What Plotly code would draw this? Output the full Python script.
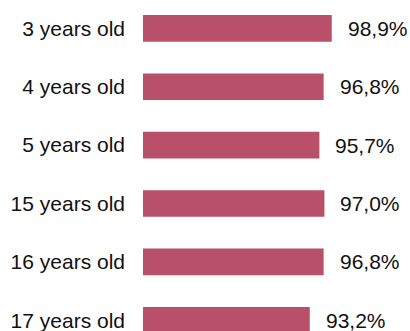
import plotly.graph_objects as go

categories = ["3 years old", "4 years old", "5 years old", "15 years old", "16 years old", "17 years old"]
values = [98.9, 96.8, 95.7, 97.0, 96.8, 93.2]
value_labels = ["98,9%", "96,8%", "95,7%", "97,0%", "96,8%", "93,2%"]

BAR_COLOR = "#B8506A"
FONT = "Liberation Sans, Arial, sans-serif"

fig = go.Figure(
    go.Bar(
        x=values,
        y=categories,
        orientation="h",
        marker=dict(color=BAR_COLOR, line=dict(width=0)),
        hoverinfo="skip",
    )
)

for cat, val, lab in zip(categories, values, value_labels):
    fig.add_annotation(
        x=val, y=cat, text=lab, showarrow=False,
        xanchor="left", yanchor="middle", xshift=14,
        font=dict(family=FONT, size=21, color="#111111"),
    )

fig.update_layout(
    width=410,
    height=331,
    margin=dict(l=143, r=74, t=0, b=0),
    paper_bgcolor="white",
    plot_bgcolor="white",
    bargap=0.543,
    showlegend=False,
    font=dict(family=FONT, size=21, color="#111111"),
    xaxis=dict(range=[50, 100], visible=False, showgrid=False, zeroline=False),
    yaxis=dict(
        type="category",
        categoryorder="array",
        categoryarray=categories,
        range=[5.183, -0.485],
        showgrid=False,
        zeroline=False,
        showline=False,
        ticks="",
        ticklabelstandoff=17,
        tickfont=dict(family=FONT, size=21, color="#111111"),
    ),
)

fig.write_html(
    "out.html",
    config={"displayModeBar": False, "staticPlot": True},
    post_script="document.body.style.margin='0';document.body.style.overflow='hidden';",
)
